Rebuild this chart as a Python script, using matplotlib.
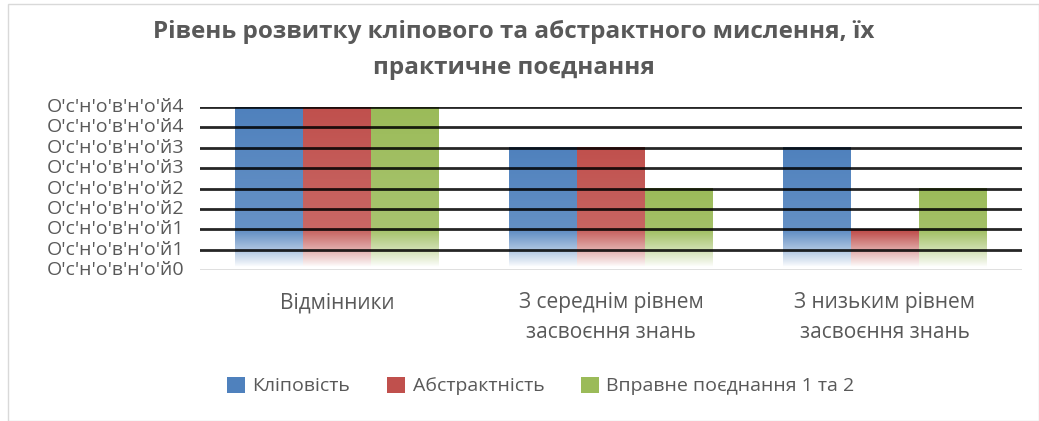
import numpy as np
import matplotlib
matplotlib.use("Agg")
import matplotlib.pyplot as plt
from matplotlib.colors import to_rgb
from matplotlib.patches import Patch, Rectangle

plt.rcParams['font.family'] = ['Open Sans', 'DejaVu Sans']

title = "Рівень розвитку кліпового та абстрактного мислення, їх\nпрактичне поєднання"
categories = ["Відмінники", "З середнім рівнем\nзасвоєння знань", "З низьким рівнем\nзасвоєння знань"]
series_names = ["Кліповість", "Абстрактність", "Вправне поєднання 1 та 2"]
klipovist = [4, 3, 3]
abstraktnist = [4, 3, 1]
poednannia = [4, 2, 2]
series_values = [klipovist, abstraktnist, poednannia]
colors = ["#4F81BD", "#C0504D", "#9BBB59"]
y_ticks = [0, 0.5, 1, 1.5, 2, 2.5, 3, 3.5, 4]
y_tick_labels = ["O'c'н'o'в'н'o'й0", "O'c'н'o'в'н'o'й1", "O'c'н'o'в'н'o'й1",
                 "O'c'н'o'в'н'o'й2", "O'c'н'o'в'н'o'й2", "O'c'н'o'в'н'o'й3",
                 "O'c'н'o'в'н'o'й3", "O'c'н'o'в'н'o'й4", "O'c'н'o'в'н'o'й4"]

W, H = 1039, 421
fig = plt.figure(figsize=(W / 100, H / 100), dpi=100)
fig.patch.set_facecolor("white")
fig.patches.append(Rectangle((8 / W, 0.0), 1 - 8 / W, 1 - 4 / H, transform=fig.transFigure,
                             fill=False, edgecolor="#d9d9d9", linewidth=1))

ax = fig.add_axes([200 / W, 1 - 270 / H, 822 / W, 163 / H])

x = np.arange(len(categories))
bw = 0.248
gray = "#595959"

for si, (vals, col) in enumerate(zip(series_values, colors)):
    bars = ax.bar(x + (si - 1) * bw, vals, width=bw, color="none", edgecolor="none", zorder=1)
    base = np.array(to_rgb(col))
    for b in bars:
        x0, y0 = b.get_x(), b.get_y()
        w, h = b.get_width(), b.get_height()
        n = 300
        yy = np.linspace(y0, y0 + h, n)
        rel = (yy - y0) / h
        light = 0.18 * (1 - rel)
        fade = np.clip((yy - 0.08) / 0.85, 0, 1) ** 0.85
        c = base[None, :] * (1 - light[:, None]) + light[:, None]
        c = c * fade[:, None] + (1 - fade[:, None])
        img = np.repeat(c[:, None, :], 2, axis=1)
        ax.imshow(img, extent=(x0, x0 + w, y0, y0 + h), origin="lower",
                  aspect="auto", zorder=1, interpolation="bilinear")

ax.set_xlim(-0.5, len(categories) - 0.5)
ax.set_ylim(0, 4)

for yv in y_ticks[1:]:
    ax.axhline(yv, color="black", linewidth=2, alpha=0.85, zorder=3)
ax.axhline(0, color="#d9d9d9", linewidth=1.2, zorder=3)

for s in ax.spines.values():
    s.set_visible(False)
ax.set_yticks(y_ticks)
ax.set_yticklabels(y_tick_labels, fontsize=14, color=gray)
ax.tick_params(axis="y", length=0, pad=11)
ax.set_xticks(x)
ax.set_xticklabels(categories, fontsize=15, color=gray, linespacing=1.55)
ax.tick_params(axis="x", length=0, pad=16)
for lbl in ax.get_yticklabels():
    lbl.set_verticalalignment("center")

fig.text(514 / W, 1 - 50 / H, title, ha="center", va="center", fontsize=17.5,
         fontweight="bold", color=gray, linespacing=1.62)

handles = [Patch(facecolor=c, edgecolor="none") for c in colors]
fig.legend(handles, series_names, loc="center", bbox_to_anchor=(541 / W, 1 - 386 / H),
           ncol=3, frameon=False, fontsize=14, labelcolor=gray, handlelength=0.9,
           handleheight=0.9, handletextpad=0.4, columnspacing=1.9)

fig.savefig("out.png", dpi=100, facecolor="white")
